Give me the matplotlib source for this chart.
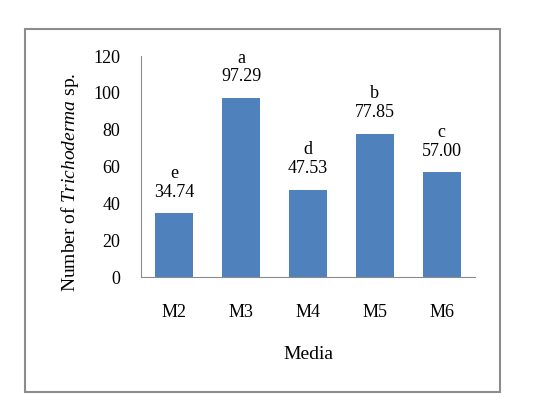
import matplotlib.pyplot as plt
from matplotlib.patches import Rectangle

# Chart data
media = ["M2", "M3", "M4", "M5", "M6"]
counts = [34.74, 97.29, 47.53, 77.85, 57.00]
letters = ["e", "a", "d", "b", "c"]

plt.rcParams["font.family"] = ["Liberation Serif", "DejaVu Serif"]
# Italic genus name should stay in the serif face.
plt.rcParams["mathtext.fontset"] = "custom"
plt.rcParams["mathtext.rm"] = "Liberation Serif"
plt.rcParams["mathtext.it"] = "Liberation Serif:italic"

fig = plt.figure(figsize=(5.51, 4.13), dpi=100)
ax = fig.add_axes([0.256, 0.329, 0.606, 0.535])

# Outer gray frame around the whole chart area.
fig.patches.append(Rectangle((0.046, 0.052), 0.862, 0.878, transform=fig.transFigure,
                             fill=False, edgecolor="#8c8c8c", linewidth=1.5))

x = range(len(media))
bars = ax.bar(x, counts, width=0.57, color="#4F81BD")

# Significance letter above the value for each bar.
for i, (val, let) in enumerate(zip(counts, letters)):
    ax.annotate(f"{let}\n{val:.2f}", (i, val), xytext=(0, 9), textcoords="offset points",
                ha="center", va="bottom", fontsize=13, linespacing=1.15)

ax.set_ylim(0, 120)
ax.set_xlim(-0.5, 4.5)
ax.set_yticks(range(0, 121, 20))
ax.set_xticks(list(x))
ax.set_xticklabels(media)
ax.tick_params(axis="both", length=0, labelsize=13)
ax.tick_params(axis="y", pad=15)
ax.tick_params(axis="x", pad=19)

for side in ["top", "right"]:
    ax.spines[side].set_visible(False)
for side in ["left", "bottom"]:
    ax.spines[side].set_color("#8c8c8c")

ax.set_xlabel("Media", fontsize=14, labelpad=18)
ax.set_ylabel("Number of $\\it{Trichoderma}$ sp.", fontsize=14, labelpad=9, y=0.43)

fig.savefig("out.png", dpi=100)
